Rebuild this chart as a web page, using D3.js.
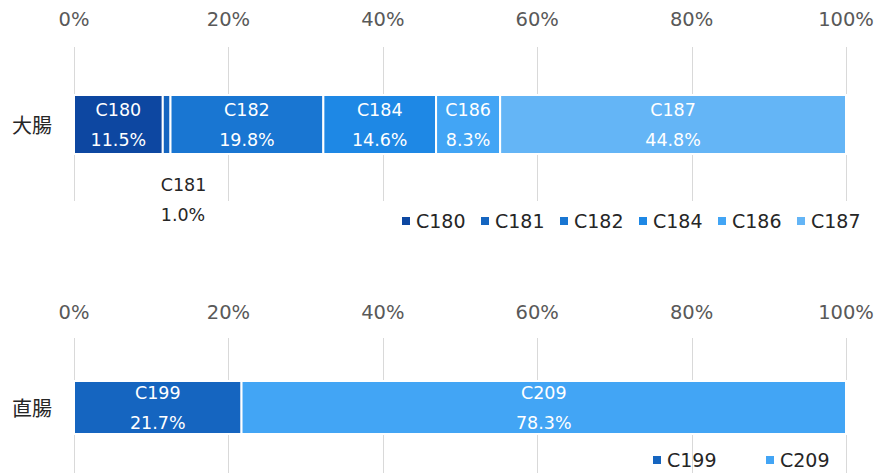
<!DOCTYPE html>
<html>
<head>
<meta charset="utf-8">
<script src="https://cdn.jsdelivr.net/npm/d3@7"></script>
<style>
  body { margin: 0; background: #fff; }
  svg text { font-family: "DejaVu Sans", "Noto Sans CJK JP", sans-serif; }
</style>
</head>
<body>
<svg id="chart" width="892" height="473"></svg>
<script>
// tick labels along the top of each panel
let tickValues = [0, 0.2, 0.4, 0.6, 0.8, 1];

// 大腸
let colonCategory = ["大腸"];
let colonCodes = ["C180", "C181", "C182", "C184", "C186", "C187"];
let colonValues = [11.5, 1.0, 19.8, 14.6, 8.3, 44.8];
let colonColors = ["#0d47a1", "#1565c0", "#1976d2", "#1e88e5", "#42a5f5", "#64b5f6"];

// 直腸
let rectumCategory = ["直腸"];
let rectumCodes = ["C199", "C209"];
let rectumValues = [21.7, 78.3];
let rectumColors = ["#1565c0", "#42a5f5"];

let svg = d3.select("#chart");
let x = d3.scaleLinear().domain([0, 1]).range([74, 846]);

// draw one stacked 100% bar panel
function drawPanel(category, codes, values, colors, layout) {
    let g = svg.append("g");
    let total = d3.sum(values);
    let ends = d3.cumsum(values);
    let segs = codes.map(function (c, i) {
        return {
            code: c,
            value: values[i],
            color: colors[i],
            x0: (ends[i] - values[i]) / total,
            x1: ends[i] / total
        };
    });

    let y = d3.scaleBand().domain(category).range([layout.barTop, layout.barBottom]).padding(0);

    // gridlines
    g.selectAll(".grid")
        .data(tickValues)
        .enter()
        .append("line")
        .attr("x1", d => Math.round(x(d)) + 0.5)
        .attr("x2", d => Math.round(x(d)) + 0.5)
        .attr("y1", layout.gridTop)
        .attr("y2", layout.gridBottom)
        .attr("stroke", "#d9d9d9")
        .attr("stroke-width", 1);

    // tick labels
    g.selectAll(".tick")
        .data(tickValues)
        .enter()
        .append("text")
        .attr("x", d => x(d))
        .attr("y", layout.tickY)
        .attr("dy", "0.35em")
        .attr("text-anchor", "middle")
        .attr("fill", "#595959")
        .style("font-size", "19.5px")
        .text(d3.format(".0%"));

    // bars
    g.selectAll(".seg")
        .data(segs)
        .enter()
        .append("rect")
        .attr("x", d => x(d.x0))
        .attr("y", y(category[0]))
        .attr("width", d => x(d.x1) - x(d.x0))
        .attr("height", y.bandwidth())
        .attr("fill", d => d.color)
        .attr("stroke", "#fff")
        .attr("stroke-width", 2);

    let cy = y(category[0]) + y.bandwidth() / 2;

    // category label
    g.append("text")
        .attr("x", 12)
        .attr("y", cy + 1)
        .attr("dy", "0.35em")
        .attr("fill", "#262626")
        .style("font-size", "20px")
        .text(category[0]);

    // data labels
    segs.forEach(function (d) {
        let w = x(d.x1) - x(d.x0);
        let inside = w > 30;
        let lx = inside ? (x(d.x0) + x(d.x1)) / 2 : x(d.x0) - 2;
        let ly = inside ? cy : layout.outsideY;
        let t = g.append("text")
            .attr("x", lx)
            .attr("text-anchor", inside ? "middle" : "start")
            .attr("fill", inside ? "#fff" : "#262626")
            .style("font-size", "17.5px");
        t.append("tspan").attr("x", lx).attr("y", ly - 15).attr("dy", "0.35em").text(d.code);
        t.append("tspan").attr("x", lx).attr("y", ly + 15).attr("dy", "0.35em").text(d3.format(".1f")(d.value) + "%");
    });

    // legend
    let leg = g.selectAll(".legend")
        .data(segs)
        .enter()
        .append("g")
        .attr("transform", (d, i) => "translate(" + (layout.legendX + i * layout.legendStep) + "," + layout.legendY + ")");
    leg.append("rect")
        .attr("x", 0)
        .attr("y", -4)
        .attr("width", 8)
        .attr("height", 8)
        .attr("fill", d => d.color);
    leg.append("text")
        .attr("x", 14)
        .attr("y", 0)
        .attr("dy", "0.35em")
        .attr("fill", "#262626")
        .style("font-size", "19px")
        .text(d => d.code);
}

drawPanel(colonCategory, colonCodes, colonValues, colonColors, {
    tickY: 19, gridTop: 47, gridBottom: 201,
    barTop: 95, barBottom: 154, outsideY: 200,
    legendX: 402, legendStep: 79, legendY: 221
});

drawPanel(rectumCategory, rectumCodes, rectumValues, rectumColors, {
    tickY: 312, gridTop: 338, gridBottom: 473,
    barTop: 381, barBottom: 434, outsideY: 470,
    legendX: 653, legendStep: 113, legendY: 460
});
</script>
</body>
</html>
